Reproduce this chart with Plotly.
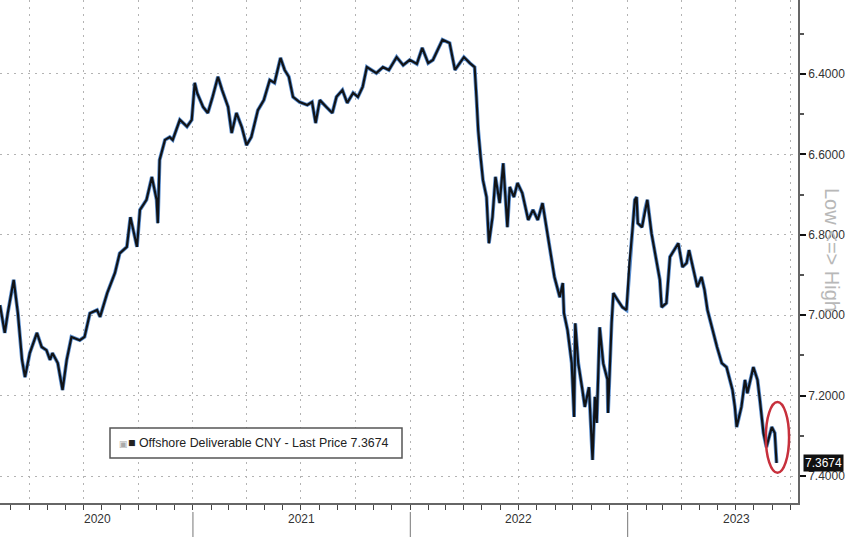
import plotly.graph_objects as go

# ---- data (offshore CNY, reversed axis) ----
dates = [
    "2020-02-12", "2020-02-20", "2020-02-25", "2020-03-06", "2020-03-13", "2020-03-20", "2020-03-25",
    "2020-04-02", "2020-04-14", "2020-04-22", "2020-04-30", "2020-05-06", "2020-05-10", "2020-05-19",
    "2020-05-27", "2020-06-03", "2020-06-11", "2020-06-25", "2020-07-03", "2020-07-12", "2020-07-24",
    "2020-07-29", "2020-08-10", "2020-08-23", "2020-08-31", "2020-09-12", "2020-09-18", "2020-09-29",
    "2020-10-04", "2020-10-15", "2020-10-24", "2020-11-01", "2020-11-03", "2020-11-06", "2020-11-15",
    "2020-11-23", "2020-11-28", "2020-12-10", "2020-12-22", "2020-12-30",
    "2021-01-04", "2021-01-08", "2021-01-18", "2021-01-26", "2021-02-03", "2021-02-12", "2021-02-19",
    "2021-03-01", "2021-03-07", "2021-03-15", "2021-03-24", "2021-04-01", "2021-04-09", "2021-04-20",
    "2021-04-30", "2021-05-10", "2021-05-18", "2021-05-28", "2021-06-04", "2021-06-11", "2021-06-18",
    "2021-06-29", "2021-07-12", "2021-07-20", "2021-07-26", "2021-08-02", "2021-08-13", "2021-08-23",
    "2021-08-30", "2021-09-09", "2021-09-17", "2021-09-27", "2021-10-05", "2021-10-13", "2021-10-20",
    "2021-10-28", "2021-11-05", "2021-11-16", "2021-11-26", "2021-12-09", "2021-12-20", "2021-12-31",
    "2022-01-12", "2022-01-21", "2022-01-31", "2022-02-08", "2022-02-16", "2022-02-24", "2022-03-08",
    "2022-03-17", "2022-03-25", "2022-04-01", "2022-04-11", "2022-04-19", "2022-04-22", "2022-04-25",
    "2022-04-29", "2022-05-03", "2022-05-09", "2022-05-13", "2022-05-19", "2022-05-24", "2022-05-31",
    "2022-06-06", "2022-06-13", "2022-06-17", "2022-06-24", "2022-06-30", "2022-07-08", "2022-07-18",
    "2022-07-26", "2022-08-03", "2022-08-11", "2022-08-18", "2022-08-23", "2022-08-31", "2022-09-09",
    "2022-09-14", "2022-09-16", "2022-09-22", "2022-09-29", "2022-10-03", "2022-10-05", "2022-10-10",
    "2022-10-17", "2022-10-21", "2022-10-28", "2022-11-01", "2022-11-03", "2022-11-07", "2022-11-10",
    "2022-11-15", "2022-11-21", "2022-11-28", "2022-11-29", "2022-12-05", "2022-12-08", "2022-12-15",
    "2022-12-23", "2022-12-30",
    "2023-01-04", "2023-01-09", "2023-01-13", "2023-01-16", "2023-01-18", "2023-01-25", "2023-01-30",
    "2023-02-03", "2023-02-10", "2023-02-17", "2023-02-24", "2023-02-27", "2023-03-07", "2023-03-13",
    "2023-03-17", "2023-03-27", "2023-04-03", "2023-04-10", "2023-04-14", "2023-04-20", "2023-04-28",
    "2023-05-05", "2023-05-10", "2023-05-15", "2023-05-22", "2023-05-31", "2023-06-08", "2023-06-16",
    "2023-06-26", "2023-06-30", "2023-07-03", "2023-07-11", "2023-07-17", "2023-07-21", "2023-07-31",
    "2023-08-07", "2023-08-11", "2023-08-17", "2023-08-22", "2023-08-31", "2023-09-05", "2023-09-07",
    "2023-09-08",
]
prices = [
    6.975, 7.044, 6.995, 6.912, 6.995, 7.111, 7.154,
    7.094, 7.044, 7.079, 7.087, 7.111, 7.094, 7.119,
    7.186, 7.111, 7.054, 7.062, 7.054, 6.995, 6.987,
    7.004, 6.945, 6.895, 6.846, 6.830, 6.756, 6.830,
    6.738, 6.713, 6.656, 6.713, 6.771, 6.614, 6.564,
    6.557, 6.564, 6.514, 6.531, 6.514,
    6.422, 6.447, 6.482, 6.497, 6.457, 6.407, 6.440,
    6.482, 6.547, 6.497, 6.532, 6.577, 6.557, 6.490,
    6.465, 6.415, 6.422, 6.360, 6.390, 6.407, 6.457,
    6.470, 6.477, 6.470, 6.522, 6.465, 6.482, 6.497,
    6.457, 6.440, 6.472, 6.447, 6.457, 6.432, 6.383,
    6.390, 6.398, 6.383, 6.390, 6.358, 6.378, 6.365,
    6.375, 6.335, 6.373, 6.365, 6.340, 6.315, 6.323,
    6.390, 6.373, 6.358, 6.373, 6.383, 6.457, 6.540,
    6.606, 6.664, 6.706, 6.821, 6.756, 6.656, 6.721,
    6.622, 6.781, 6.681, 6.706, 6.671, 6.696, 6.763,
    6.738, 6.763, 6.721, 6.788, 6.838, 6.905, 6.955,
    6.920, 6.995, 7.037, 7.119, 7.253, 7.020, 7.119,
    7.186, 7.228, 7.179, 7.328, 7.360, 7.203, 7.268,
    7.030, 7.120, 7.160, 7.243, 7.020, 6.945, 6.962,
    6.980, 6.987,
    6.870, 6.788, 6.713, 6.706, 6.771, 6.781, 6.738,
    6.713, 6.796, 6.855, 6.912, 6.980, 6.970, 6.855,
    6.846, 6.821, 6.880, 6.870, 6.838, 6.880, 6.930,
    6.905, 6.937, 6.987, 7.030, 7.079, 7.119, 7.129,
    7.186, 7.228, 7.278, 7.228, 7.161, 7.194, 7.129,
    7.161, 7.211, 7.293, 7.328, 7.278, 7.293, 7.353,
    7.3674,
]
year_labels = ["2020", "2021", "2022", "2023"]
year_label_dates = ["2020-07-24", "2021-07-02", "2022-07-02", "2023-07-02"]
year_starts = ["2021-01-01", "2022-01-01", "2023-01-01"]
series_name = "Offshore Deliverable CNY - Last Price"
last_price = 7.3674
axis_note = "Low <=> High"

FONT = "Liberation Sans, Arial, sans-serif"
PLOT_W = 798.0
PLOT_H = 503.0

fig = go.Figure()
fig.add_trace(go.Scatter(x=dates, y=prices, mode="lines",
                         line=dict(color="#5b8fd0", width=3.8),
                         hoverinfo="skip", showlegend=False))
fig.add_trace(go.Scatter(x=dates, y=prices, mode="lines",
                         line=dict(color="#111316", width=2.2),
                         name=series_name, showlegend=False))

annotations = []
for lab, d in zip(year_labels, year_label_dates):
    annotations.append(dict(x=d, xref="x", y=-16 / PLOT_H, yref="paper", text=lab,
                            showarrow=False, xanchor="center", yanchor="middle",
                            font=dict(family=FONT, size=12, color="#333333")))
shapes = []
for d in year_starts:
    shapes.append(dict(type="line", x0=d, x1=d, xref="x", y0=-9 / PLOT_H, y1=-36 / PLOT_H,
                       yref="paper", line=dict(color="#777777", width=1)))

# legend box
shapes.append(dict(type="rect", xref="paper", yref="paper",
                   x0=110 / PLOT_W, x1=402 / PLOT_W, y0=1 - 458 / PLOT_H, y1=1 - 428 / PLOT_H,
                   line=dict(color="#555555", width=1.5), fillcolor="white", layer="above"))
annotations.append(dict(x=117 / PLOT_W, xref="paper", y=1 - 443 / PLOT_H, yref="paper",
                        text="<span style='color:#aaaaaa;font-size:9px'>▣</span>■ "
                             + series_name + " " + f"{last_price:.4f}",
                        showarrow=False, xanchor="left", yanchor="middle",
                        font=dict(family=FONT, size=12.4, color="#222222")))

# last price tag
annotations.append(dict(x=1.0, xref="paper", y=last_price, yref="y", text=f"{last_price:.4f}",
                        showarrow=False, xanchor="left", yanchor="middle", xshift=5,
                        bgcolor="#111111", borderpad=1,
                        font=dict(family=FONT, size=12, color="white")))

# rotated axis note
annotations.append(dict(x=832 / PLOT_W, xref="paper", y=1 - 250 / PLOT_H, yref="paper",
                        text=axis_note, textangle=90, showarrow=False,
                        xanchor="center", yanchor="middle",
                        font=dict(family=FONT, size=20, color="#b8b8b8")))

# red ellipse highlight
shapes.append(dict(type="circle", xref="x", yref="y",
                   x0="2023-08-21", x1="2023-09-29", y0=7.216, y1=7.392,
                   line=dict(color="#c7303c", width=2.5)))

fig.update_layout(
    width=848, height=537,
    margin=dict(l=0, r=50, t=0, b=34),
    paper_bgcolor="white", plot_bgcolor="white",
    font=dict(family=FONT, color="#333333"),
    showlegend=False,
    annotations=annotations,
    shapes=shapes,
    xaxis=dict(
        type="date", range=["2020-02-12", "2023-10-14"],
        showgrid=True, gridcolor="#b3b3b3", griddash="2px,5px", gridwidth=1.3,
        tick0="2020-01-01", dtick="M3",
        showticklabels=False, ticks="outside", ticklen=5, tickcolor="#444444",
        minor=dict(dtick="M1", tick0="2020-01-01", ticks="outside", ticklen=5,
                   tickcolor="#444444", showgrid=False),
        showline=True, linecolor="#666666", linewidth=1.5,
        zeroline=False, automargin=False,
    ),
    yaxis=dict(
        side="right", range=[7.467, 6.216],
        tick0=6.4, dtick=0.2, tickformat=".4f",
        showgrid=True, gridcolor="#b3b3b3", griddash="2px,5px", gridwidth=1.3,
        ticks="outside", ticklen=6, tickwidth=2, tickcolor="#111111",
        minor=dict(tick0=6.3, dtick=0.2, ticks="outside", ticklen=4,
                   tickcolor="#555555", showgrid=False),
        tickfont=dict(family=FONT, size=12, color="#333333"),
        showline=True, linecolor="#666666", linewidth=1.5,
        zeroline=False, automargin=False,
    ),
)

fig.write_html("out.html", config={"displayModeBar": False},
               post_script="document.body.style.margin='0';document.body.style.overflow='hidden';")
